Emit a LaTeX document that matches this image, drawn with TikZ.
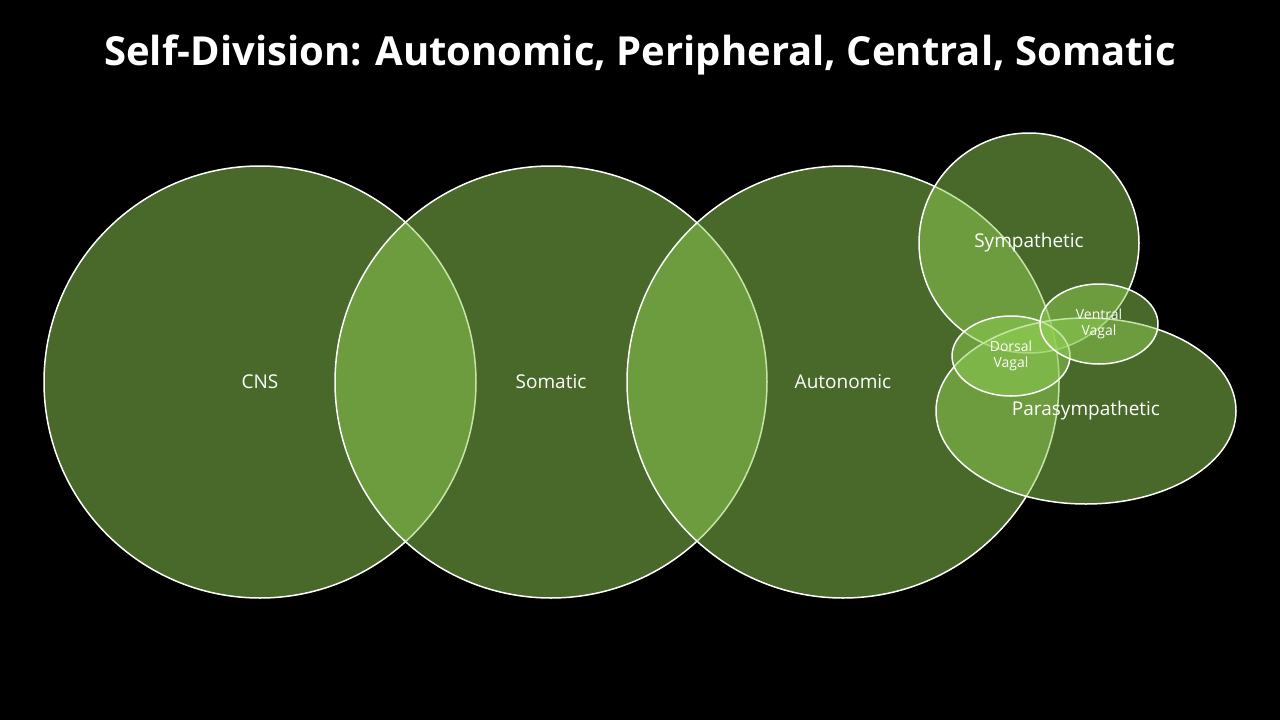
\documentclass[tikz,border=0pt]{standalone}
\usepackage{fontspec}
\setmainfont{Open Sans}
\begin{document}
\begin{tikzpicture}[x=1pt,y=-1pt,
  set/.style={draw=white,line width=1.5pt,fill={rgb,255:red,144;green,206;blue,82},fill opacity=0.514},
  lab/.style={text=white,font=\fontsize{19}{22}\selectfont,align=center},
  small/.style={text=white,font=\fontsize{14}{16}\selectfont,align=center}]
\fill[black] (0,0) rectangle (1280,720);
\useasboundingbox (0,0) rectangle (1280,720);
\node[text=white,font=\bfseries\fontsize{40}{46}\selectfont] (title) at (640,55) {Self-Division: Autonomic, Peripheral, Central, Somatic};
\path[set] (260,382) circle (216);
\path[set] (551,382) circle (216);
\path[set] (843,382) circle (216);
\path[set] (1029,243) circle (110);
\path[set] (1086,411) ellipse (150 and 93);
\path[set] (1011,356) ellipse (59 and 40);
\path[set] (1099,324) ellipse (59 and 40);
\node[lab] (cns) at (260,382) {CNS};
\node[lab] (som) at (551,382) {Somatic};
\node[lab] (aut) at (843,382) {Autonomic};
\node[lab] (sym) at (1029,243) {Sympathetic};
\node[lab] (para) at (1086,411) {Parasympathetic};
\node[small] (dv) at (1011,356) {Dorsal\\Vagal};
\node[small] (vv) at (1099,324) {Ventral\\Vagal};
\end{tikzpicture}
\end{document}
